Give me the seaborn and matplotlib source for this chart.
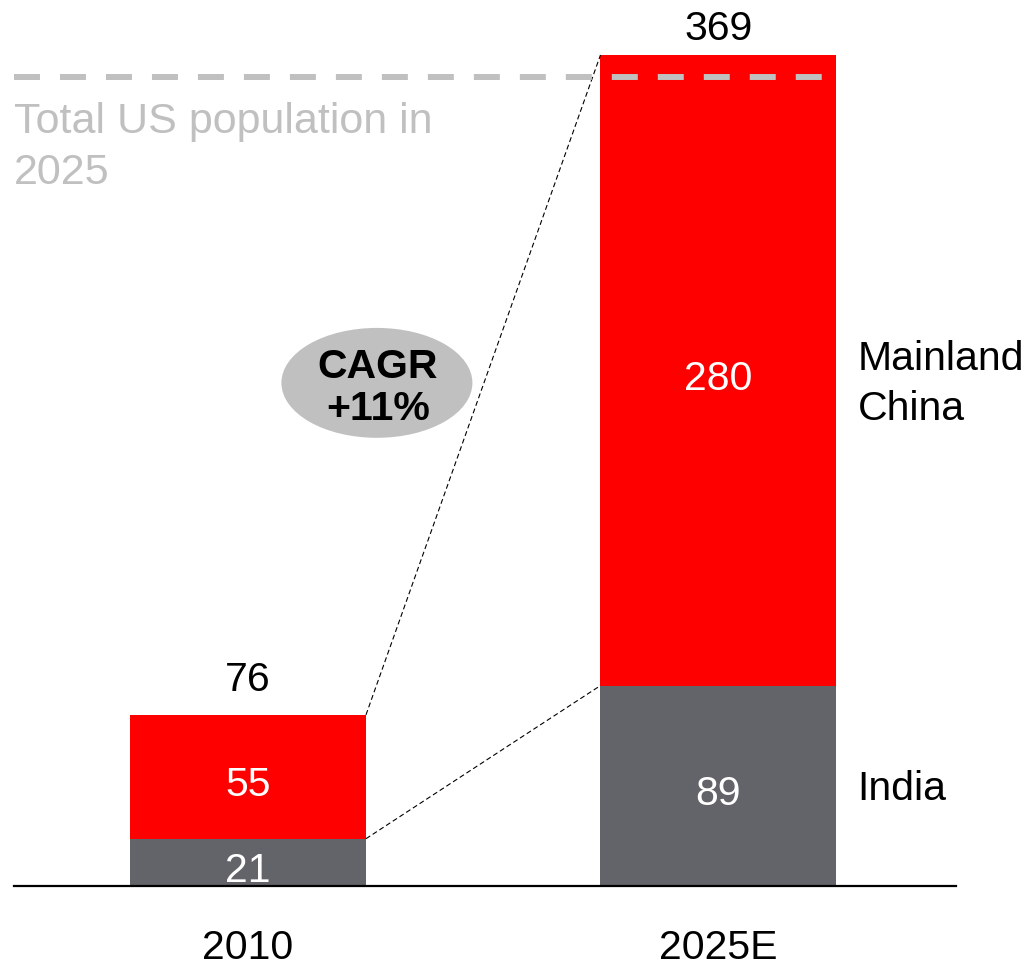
import matplotlib
matplotlib.use("Agg")
import matplotlib.pyplot as plt
import seaborn as sns
import pandas as pd
from matplotlib.patches import Ellipse

# ---- data ----
years = ["2010", "2025E"]
india = [21, 89]
china = [55, 280]
totals = [76, 369]
us_population_2025 = 359
segment_names = ["Mainland\nChina", "India"]
cagr_label = "CAGR\n+11%"
us_label = "Total US population in\n2025"

RED = "#ff0000"
GREY = "#636469"
LIGHT = "#c0c0c0"

sns.set_theme(style="white")
plt.rcParams["font.family"] = ["Liberation Sans", "DejaVu Sans"]

fig = plt.figure(figsize=(10.31, 9.69), dpi=100)
ax = fig.add_axes([14 / 1031, 83 / 969, 942 / 1031, 886 / 969])

df = pd.DataFrame({"year": years, "india": india, "china": china, "total": totals})
W = 0.5016
sns.barplot(data=df, x="year", y="total", color=RED, width=W, ax=ax,
            saturation=1, edgecolor="none", linewidth=0, zorder=2)
sns.barplot(data=df, x="year", y="india", color=GREY, width=W, ax=ax,
            saturation=1, edgecolor="none", linewidth=0, zorder=2)

ax.set_xlim(-0.4973, 1.5048)
ax.set_ylim(0, 393.4)

for s in ["top", "right", "left"]:
    ax.spines[s].set_visible(False)
ax.spines["bottom"].set_linewidth(1.6)
ax.spines["bottom"].set_color("black")
ax.set_yticks([])
ax.set_xlabel("")
ax.set_ylabel("")
FS = 29.5
ax.tick_params(axis="x", length=0, pad=31, labelsize=FS, labelcolor="black")

for i in range(len(years)):
    # segment labels
    ax.annotate(str(india[i]), (i, india[i] / 2), xytext=(0, -14),
                textcoords="offset points", ha="center", va="baseline",
                color="white", fontsize=FS, zorder=5)
    ax.annotate(str(china[i]), (i, india[i] + china[i] / 2), xytext=(0, -14),
                textcoords="offset points", ha="center", va="baseline",
                color="white", fontsize=FS, zorder=5)
# totals
ax.annotate(str(totals[0]), (0, totals[0]), xytext=(0, 17.3), textcoords="offset points",
            ha="center", va="baseline", fontsize=FS, color="black")
ax.annotate(str(totals[1]), (1, totals[1]), xytext=(0, 10.8), textcoords="offset points",
            ha="center", va="baseline", fontsize=FS, color="black", annotation_clip=False)

# connector lines
h = W / 2
ax.plot([0 + h, 1 - h], [totals[0], totals[1]], color="black", lw=0.8,
        ls=(0, (4.5, 2.7)), zorder=3)
ax.plot([0 + h, 1 - h], [india[0], india[1]], color="black", lw=0.8,
        ls=(0, (4.5, 2.7)), zorder=3)

# US population dashed line
ax.plot([-0.4973, 1 + h], [us_population_2025, us_population_2025], color=LIGHT,
        lw=4.3, ls=(0, (4.35, 3.35)), zorder=4, solid_capstyle="butt",
        dash_capstyle="butt")
ax.annotate(us_label, (-0.4973, us_population_2025), xytext=(0, -17.5),
            textcoords="offset points", ha="left", va="top",
            fontsize=31, color=LIGHT, linespacing=1.36)

# CAGR bubble
ax.add_patch(Ellipse((0.274, 223.4), 0.406, 48.8, facecolor=LIGHT,
                     edgecolor="none", zorder=3))
ax.text(0.276, 221.1, cagr_label, ha="center", va="center", fontsize=FS,
        fontweight="bold", color="black", linespacing=1.15, zorder=4)

# segment names on right
ax.annotate(segment_names[0], (1 + h + 0.045, india[1] + china[1] / 2),
            xytext=(0, 22), textcoords="offset points", ha="left",
            va="top", fontsize=FS, color="black", linespacing=1.42)
ax.annotate(segment_names[1], (1 + h + 0.045, india[1] / 2),
            xytext=(0, -10.3), textcoords="offset points", ha="left",
            va="baseline", fontsize=FS, color="black")

fig.savefig("out.png", dpi=100)
